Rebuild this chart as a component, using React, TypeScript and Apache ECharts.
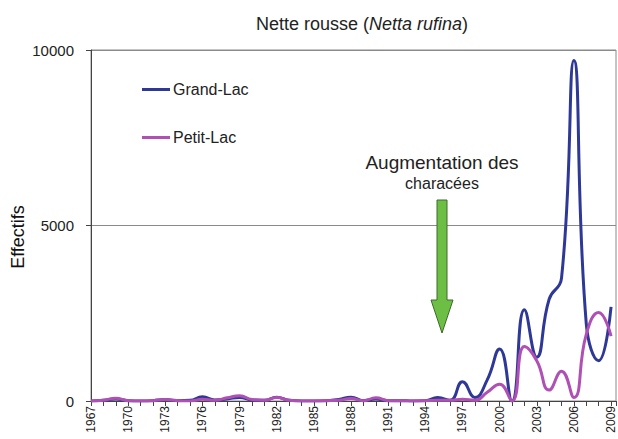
import React, { useEffect, useRef } from "react";
import * as echarts from "echarts";

const years = [
  1967, 1968, 1969, 1970, 1971, 1972, 1973, 1974, 1975, 1976, 1977, 1978, 1979, 1980, 1981,
  1982, 1983, 1984, 1985, 1986, 1987, 1988, 1989, 1990, 1991, 1992, 1993, 1994, 1995, 1996,
  1997, 1998, 1999, 2000, 2001, 2002, 2003, 2004, 2005, 2006, 2007, 2008, 2009,
];

const grandLac = [
  0, 20, 60, 10, 0, 10, 40, 10, 20, 120, 30, 60, 100, 30, 20,
  110, 20, 0, 0, 10, 40, 110, 10, 60, 10, 10, 0, 10, 100, 20,
  550, 100, 600, 1480, 0, 2600, 1250, 2900, 3500, 9700, 2200, 1150, 2680,
];

const petitLac = [
  0, 20, 80, 10, 0, 10, 40, 10, 0, 50, 20, 90, 150, 40, 20,
  100, 20, 0, 0, 10, 20, 70, 10, 90, 10, 0, 0, 10, 20, 20,
  50, 20, 250, 480, 0, 1550, 1150, 310, 850, 100, 1900, 2520, 1850,
];

const yTicks = [0, 5000, 10000];

const FONT = "Liberation Sans";
const BLUE = "#2E3896";
const PURPLE = "#B050B4";

export default function App() {
  const ref = useRef<HTMLDivElement>(null);

  useEffect(() => {
    document.body.style.margin = "0";
    if (!ref.current) return;
    const chart = echarts.init(ref.current, undefined, { renderer: "svg" });
    chart.setOption({
      animation: false,
      backgroundColor: "#ffffff",
      textStyle: { fontFamily: FONT },
      title: {
        text: "{n|Nette rousse (}{i|Netta rufina}{n|)}",
        left: 251,
        top: 10,
        textStyle: {
          fontWeight: "normal",
          rich: {
            n: { fontSize: 18, color: "#222", fontFamily: FONT, fontWeight: "normal" },
            i: { fontSize: 18, color: "#222", fontStyle: "italic", fontFamily: FONT, fontWeight: "normal" },
          },
        },
      },
      legend: {
        orient: "vertical",
        left: 137,
        top: 76,
        icon: "rect",
        itemWidth: 28,
        itemHeight: 3,
        itemGap: 31,
        textStyle: { fontSize: 16, color: "#222", fontFamily: FONT, lineHeight: 17, padding: [0, 0, 0, -2] },
        data: ["Grand-Lac", "Petit-Lac"],
      },
      grid: {
        left: 91,
        right: 2,
        top: 50,
        bottom: 38,
        show: true,
        borderColor: "#8a8a8a",
        borderWidth: 1,
        containLabel: false,
      },
      xAxis: {
        type: "value",
        min: years[0],
        max: years[years.length - 1] + 0.4,
        interval: 1,
        axisLine: { show: true, lineStyle: { color: "#444", width: 1 } },
        axisTick: { show: true, length: 5, lineStyle: { color: "#444" } },
        splitLine: { show: false },
        axisLabel: {
          rotate: 90,
          fontSize: 12,
          color: "#222",
          margin: 5,
          fontFamily: FONT,
          formatter: (v: number) =>
            Number.isInteger(v) && (v - years[0]) % 3 === 0 ? String(v) : "",
        },
      },
      yAxis: {
        type: "value",
        min: yTicks[0],
        max: yTicks[yTicks.length - 1],
        interval: yTicks[1] - yTicks[0],
        axisLine: { show: true, lineStyle: { color: "#444", width: 1 } },
        axisTick: { show: true, length: 5, lineStyle: { color: "#444" } },
        splitLine: { show: true, lineStyle: { color: "#8a8a8a", width: 1 } },
        axisLabel: {
          fontSize: 15,
          color: "#222",
          margin: 17,
          fontFamily: FONT,
          formatter: (v: number) => String(v),
        },
      },
      series: [
        {
          name: "Grand-Lac",
          type: "line",
          smooth: true,
          showSymbol: false,
          symbol: "none",
          color: BLUE,
          lineStyle: { color: BLUE, width: 3 },
          data: years.map((y, i) => [y, grandLac[i]]),
        },
        {
          name: "Petit-Lac",
          type: "line",
          smooth: true,
          showSymbol: false,
          symbol: "none",
          color: PURPLE,
          lineStyle: { color: PURPLE, width: 3 },
          data: years.map((y, i) => [y, petitLac[i]]),
        },
      ],
      graphic: [
        {
          type: "text",
          x: 18,
          y: 237,
          rotation: Math.PI / 2,
          style: {
            text: "Effectifs",
            fontSize: 18,
            fill: "#111",
            fontFamily: FONT,
            align: "center",
            verticalAlign: "middle",
          },
        },
        {
          type: "text",
          x: 442,
          y: 162,
          style: {
            text: "Augmentation des",
            fontSize: 19,
            fill: "#222",
            fontFamily: FONT,
            align: "center",
            verticalAlign: "middle",
          },
        },
        {
          type: "text",
          x: 442,
          y: 183,
          style: {
            text: "characées",
            fontSize: 16,
            fill: "#222",
            fontFamily: FONT,
            align: "center",
            verticalAlign: "middle",
          },
        },
        {
          type: "polygon",
          shape: {
            points: [
              [437, 200],
              [447, 200],
              [447, 300],
              [453, 300],
              [442, 333],
              [431, 300],
              [437, 300],
            ],
          },
          style: { fill: "#6CBE45", stroke: "#3E6B2A", lineWidth: 1 },
          z: 100,
        },
      ],
    });
    return () => chart.dispose();
  }, []);

  return <div ref={ref} style={{ width: 618, height: 439 }} />;
}
